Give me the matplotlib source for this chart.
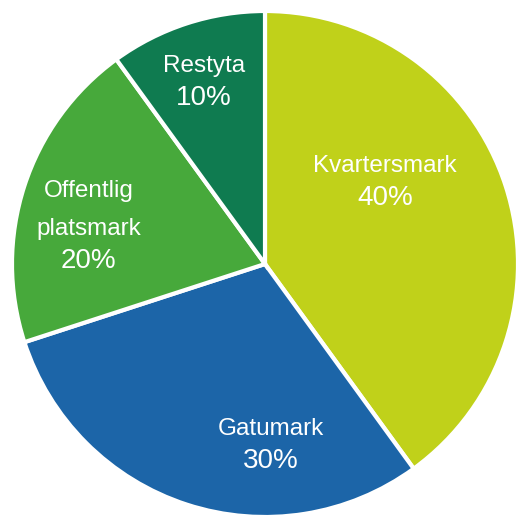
import numpy as np
import matplotlib.pyplot as plt

# Markanvändning
kategorier = ['Kvartersmark', 'Gatumark', 'Offentlig\nplatsmark', 'Restyta']
andelar = [40, 30, 20, 10]
farger = ['#c0d11a', '#1c65a8', '#47a93b', '#0f7b50']

# label placement: x and baseline of first name line (pie radius = 1)
etikett_x = [0.474, 0.024, -0.696, -0.241]
etikett_y = [0.364, -0.676, 0.265, 0.759]
rad_steg = 0.15     # between name lines
pct_steg = 0.13     # name baseline -> percent baseline

plt.rcParams['font.family'] = ['Liberation Sans', 'DejaVu Sans']

fig = plt.figure(figsize=(5.18, 5.17), dpi=100)
ax = fig.add_axes([0, 0, 1, 1])

wedges, _ = ax.pie(andelar, colors=farger, startangle=90, counterclock=False,
                   radius=1.0, wedgeprops=dict(edgecolor='white', linewidth=3))

for namn, v, x, y in zip(kategorier, andelar, etikett_x, etikett_y):
    for rad in namn.split('\n'):
        ax.text(x, y, rad, ha='center', va='baseline', color='white', fontsize=17.5)
        y -= rad_steg
    y += rad_steg
    ax.text(x, y - pct_steg, f'{v}%', ha='center', va='baseline', color='white',
            fontsize=20)

ax.set_xlim(-265/253, 253/253)
ax.set_ylim(-253/253, 264/253)
ax.set_aspect('equal')
ax.axis('off')

fig.savefig('out.png', dpi=100)
